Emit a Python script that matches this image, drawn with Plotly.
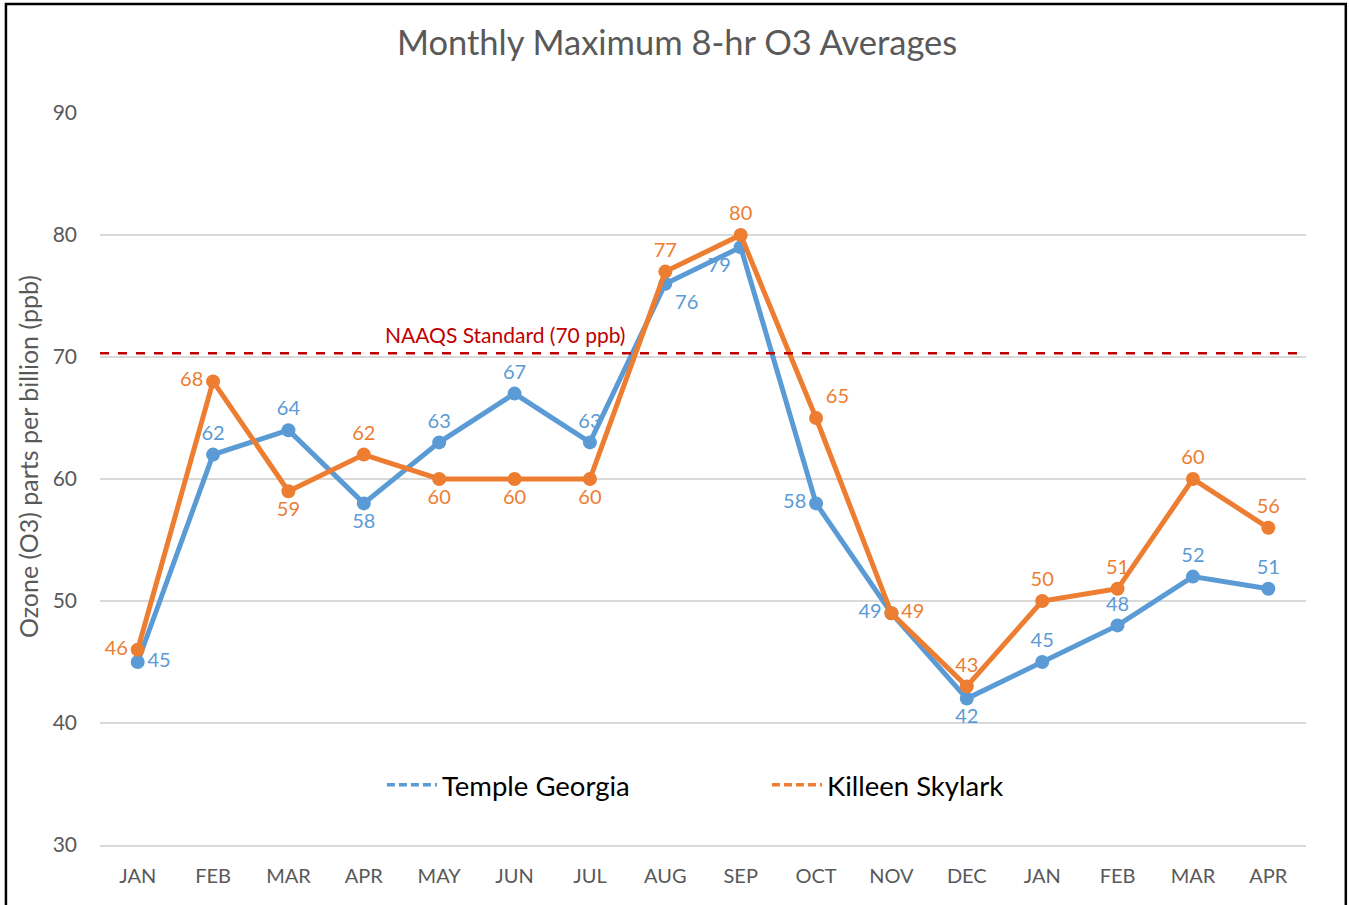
import plotly.graph_objects as go

months = ["JAN", "FEB", "MAR", "APR", "MAY", "JUN", "JUL", "AUG", "SEP", "OCT", "NOV", "DEC", "JAN", "FEB", "MAR", "APR"]
temple = [45, 62, 64, 58, 63, 67, 63, 76, 79, 58, 49, 42, 45, 48, 52, 51]
killeen = [46, 68, 59, 62, 60, 60, 60, 77, 80, 65, 49, 43, 50, 51, 60, 56]
naaqs = 70.3
y_ticks = [30, 40, 50, 60, 70, 80, 90]

temple_pos = ["middle right", "top center", "top center", "bottom center", "top center", "top center", "top center",
              "bottom right", "bottom left", "middle left", "middle left", "bottom center", "top center", "top center",
              "top center", "top center"]
killeen_pos = ["middle left", "middle left", "bottom center", "top center", "bottom center", "bottom center", "bottom center",
               "top center", "top center", "top right", "middle right", "top center", "top center", "top center",
               "top center", "top center"]

BLUE = "#5B9BD5"
ORANGE = "#ED7D31"
FONT = "Lato, Carlito, Calibri, 'Open Sans', sans-serif"

x = list(range(len(months)))
fig = go.Figure()
fig.add_trace(go.Scatter(x=x, y=temple, mode="lines+markers+text", line=dict(color=BLUE, width=5),
                         marker=dict(size=14, color=BLUE), text=[str(v) for v in temple],
                         textposition=temple_pos, textfont=dict(color=BLUE, size=20), showlegend=False,
                         cliponaxis=False))
fig.add_trace(go.Scatter(x=x, y=killeen, mode="lines+markers+text", line=dict(color=ORANGE, width=5),
                         marker=dict(size=14, color=ORANGE), text=[str(v) for v in killeen],
                         textposition=killeen_pos, textfont=dict(color=ORANGE, size=20), showlegend=False,
                         cliponaxis=False))
fig.add_trace(go.Scatter(x=[None], y=[None], mode="lines", name="Temple Georgia",
                         line=dict(color=BLUE, width=3.5, dash="8px,4px")))
fig.add_trace(go.Scatter(x=[None], y=[None], mode="lines", name="Killeen Skylark",
                         line=dict(color=ORANGE, width=3.5, dash="8px,4px")))

fig.add_shape(type="line", xref="x", yref="y", x0=-0.5, x1=len(months) - 0.5, y0=naaqs, y1=naaqs,
              line=dict(color="#C00000", width=2.5, dash="dash"))
fig.add_annotation(x=4.87, y=naaqs, xref="x", yref="y", text="NAAQS Standard (70 ppb)", showarrow=False,
                   yanchor="bottom", yshift=4, font=dict(color="#C00000", size=21, family=FONT))
# y axis title
fig.add_annotation(x=-0.0597, y=0.530, xref="paper", yref="paper", text="Ozone (O3) parts per billion (ppb)",
                   textangle=-90, showarrow=False, xanchor="center", yanchor="middle",
                   font=dict(size=25, color="#595959", family=FONT))
# outer border
fig.add_shape(type="rect", xref="paper", yref="paper", x0=-0.078, x1=1.033, y0=-0.095, y1=1.149,
              line=dict(color="black", width=2.5), fillcolor="rgba(0,0,0,0)", layer="below")

fig.update_layout(
    width=1349, height=905,
    margin=dict(l=100, r=43, t=113, b=60),
    paper_bgcolor="white", plot_bgcolor="white",
    font=dict(family=FONT, color="#595959"),
    title=dict(text="Monthly Maximum 8-hr O3 Averages", x=0.4785, xanchor="center", xref="paper",
               y=0.953, yanchor="middle", font=dict(size=34.5, color="#595959", family=FONT)),
    xaxis=dict(range=[-0.5, len(months) - 0.5], tickmode="array", tickvals=x, ticktext=months,
               showgrid=False, zeroline=False, showline=True, linecolor="#D9D9D9", linewidth=1.5, ticks="",
               ticklabelstandoff=12, tickfont=dict(size=20, color="#595959")),
    yaxis=dict(range=[30, 90], tickmode="array", tickvals=y_ticks, showgrid=True, gridcolor="#D9D9D9",
               gridwidth=1.5, zeroline=False, showline=False, ticks="", ticklabelstandoff=22,
               tickfont=dict(size=21, color="#595959")),
    legend=dict(orientation="h", x=0.553, xanchor="center", y=0.082, yanchor="middle",
                font=dict(size=27.5, color="black"), entrywidth=320, itemwidth=50,
                bgcolor="rgba(0,0,0,0)"),
)

fig.write_html("out.html", config={"displayModeBar": False},
               post_script="document.body.style.margin='0px';")
